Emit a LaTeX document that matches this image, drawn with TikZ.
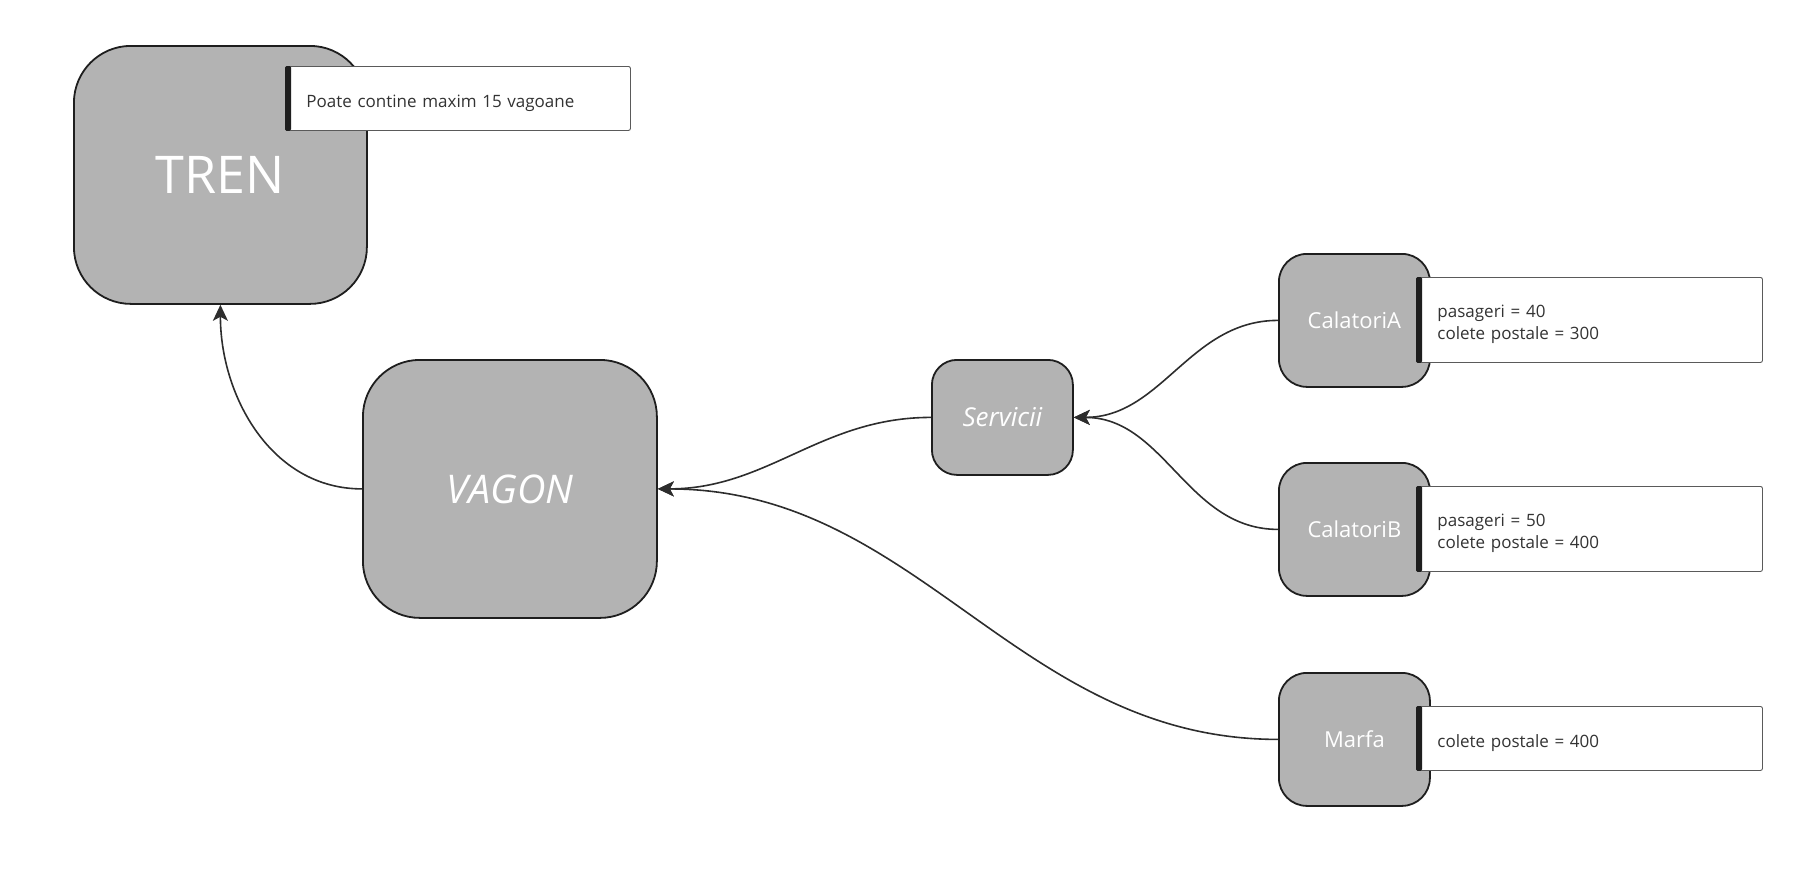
\documentclass[tikz,border=0pt]{standalone}
\usepackage{fontspec}
\setmainfont{Open Sans}
\usetikzlibrary{arrows.meta}
\definecolor{boxfill}{RGB}{179,179,179}
\definecolor{edgec}{RGB}{30,30,30}
\definecolor{arrc}{RGB}{45,45,45}
\definecolor{notetext}{RGB}{51,51,51}
\definecolor{notedraw}{RGB}{90,90,90}
\newcommand{\lowr}[1]{\raisebox{-4.5pt}[\height][\depth]{#1}}
\begin{document}
\begin{tikzpicture}[x=1pt,y=1pt,
  box/.style={draw=edgec, line width=1.8pt, fill=boxfill, text=white, inner sep=0pt, anchor=north west},
  note/.style={draw=notedraw, line width=0.9pt, fill=white, rounded corners=2pt, anchor=north west,
    inner ysep=0pt, inner xsep=21pt, align=left, text=notetext, font=\fontsize{17}{22}\selectfont},
  notebar/.style={fill=edgec, rounded corners=1.5pt},
  conn/.style={draw=arrc, line width=1.6pt, -{Stealth[length=16pt,width=15pt,inset=4pt]}},
]
\useasboundingbox (0,0) rectangle (1794,-870);
% main boxes
\node[box, minimum width=293pt, minimum height=258pt, rounded corners=57pt,
  font=\fontsize{52}{60}\selectfont] (tren) at (73,-45) {TREN};
\node[box, minimum width=294pt, minimum height=258pt, rounded corners=57pt,
  font=\fontsize{39.5}{44}\itshape\selectfont] (vagon) at (362,-359) {VAGON};
\node[box, minimum width=141pt, minimum height=115pt, rounded corners=25pt,
  font=\fontsize{26}{30}\itshape\selectfont] (serv) at (931,-359) {Servicii};
\node[box, minimum width=151pt, minimum height=133pt, rounded corners=28pt,
  font=\fontsize{22}{26}\selectfont] (cala) at (1278,-253) {CalatoriA};
\node[box, minimum width=151pt, minimum height=133pt, rounded corners=28pt,
  font=\fontsize{22}{26}\selectfont] (calb) at (1278,-462) {CalatoriB};
\node[box, minimum width=151pt, minimum height=133pt, rounded corners=28pt,
  font=\fontsize{22}{26}\selectfont] (marfa) at (1278,-672) {Marfa};
% notes
\node[note, text width=303pt, minimum height=64pt] (ntren) at (285,-66) {\lowr{Poate contine maxim 15 vagoane}};
\fill[notebar] (ntren.north west) rectangle ([xshift=6pt]ntren.south west);
\node[note, text width=304pt, minimum height=85pt] (ncala) at (1416,-277) {\lowr{pasageri = 40}\\\lowr{colete postale = 300}};
\fill[notebar] (ncala.north west) rectangle ([xshift=6pt]ncala.south west);
\node[note, text width=304pt, minimum height=85pt] (ncalb) at (1416,-486) {\lowr{pasageri = 50}\\\lowr{colete postale = 400}};
\fill[notebar] (ncalb.north west) rectangle ([xshift=6pt]ncalb.south west);
\node[note, text width=304pt, minimum height=64pt] (nmarfa) at (1416,-706) {\lowr{colete postale = 400}};
\fill[notebar] (nmarfa.north west) rectangle ([xshift=6pt]nmarfa.south west);
% connectors
\draw[conn] (vagon.west) to[out=180,in=-90] (tren.south);
\draw[conn] (serv.west) to[out=180,in=0] (vagon.east);
\draw[conn] (marfa.west) to[out=180,in=0] (vagon.east);
\draw[conn] (cala.west) to[out=180,in=0] (serv.east);
\draw[conn] (calb.west) to[out=180,in=0] (serv.east);
\end{tikzpicture}
\end{document}
